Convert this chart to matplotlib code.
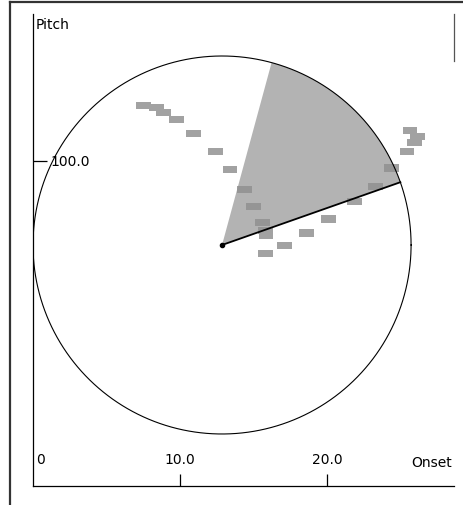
import numpy as np
import matplotlib
matplotlib.use('Agg')
import matplotlib.pyplot as plt
from matplotlib.lines import Line2D

# Note events: onset (beats), pitch, duration
onsets = [7.0, 7.9, 8.4, 9.25, 10.4, 11.9, 12.9, 13.9, 14.5, 15.1, 15.3, 15.35,
          16.6, 15.3, 18.1, 19.6, 21.35, 22.8, 23.9, 25.15, 25.65, 25.45, 24.95]
pitches = [107.9, 107.6, 106.9, 105.9, 103.9, 101.4, 98.8, 95.9, 93.5, 91.2, 90.1, 89.4,
           87.9, 86.8, 89.7, 91.7, 94.2, 96.4, 99.0, 104.4, 103.5, 102.6, 101.4]
durations = [1.0] * len(onsets)

# Selection circle (data units) and the highlighted sector (degrees)
circle_center = (12.86, 88.0)
circle_radius = (12.86, 27.0)
sector_angles = (19.4, 74.8)

x_ticks = [10, 20]
x_tick_labels = ['10.0', '20.0']
y_ticks = [100]
y_tick_labels = ['100.0']

plt.rcParams['font.family'] = 'DejaVu Sans'
plt.rcParams['font.size'] = 10

W, H = 464, 506
fig = plt.figure(figsize=(W / 100, H / 100), dpi=100)
ax = fig.add_axes([33 / W, 19 / H, 421 / W, 472 / H])
ax.set_xlim(0, 28.64)
ax.set_ylim(53.57, 121.0)

# notes
p = np.array(pitches)
ax.bar(onsets, 1.05, width=durations, bottom=p - 0.525, align='edge',
       color='#a2a2a2', linewidth=0, zorder=2)

# sector, drawn translucent over the notes
cx, cy = circle_center
rx, ry = circle_radius
t = np.radians(np.linspace(sector_angles[0], sector_angles[1], 100))
wx = np.concatenate([[cx], cx + rx * np.cos(t), [cx]])
wy = np.concatenate([[cy], cy + ry * np.sin(t), [cy]])
ax.fill(wx, wy, color='#8f8f8f', alpha=0.68, linewidth=0, zorder=3)

# circle outline
tt = np.linspace(0, 2 * np.pi, 400)
ax.plot(cx + rx * np.cos(tt), cy + ry * np.sin(tt), color='black', lw=0.8, zorder=4)

# radius line and centre dot
a0 = np.radians(sector_angles[0])
ax.plot([cx, cx + rx * np.cos(a0)], [cy, cy + ry * np.sin(a0)],
        color='black', lw=1.3, zorder=5)
ax.plot([cx], [cy], 'o', color='black', ms=3, zorder=6)

# axes styling
for side in ['top', 'right']:
    ax.spines[side].set_visible(False)
for side in ['left', 'bottom']:
    ax.spines[side].set_linewidth(0.9)
ax.set_xticks(x_ticks)
ax.set_yticks(y_ticks)
ax.tick_params(axis='x', direction='in', length=8.6, width=0.9, labelbottom=False)
ax.tick_params(axis='y', direction='in', length=10, width=0.9, labelleft=False)

for xv, lab in zip(x_ticks, x_tick_labels):
    ax.annotate(lab, xy=(xv, 0), xycoords=('data', 'axes fraction'),
                xytext=(0, 19.5), textcoords='offset points', ha='center', va='center')
ax.annotate('0', xy=(0, 0), xycoords=('data', 'axes fraction'),
            xytext=(2.2, 19.5), textcoords='offset points', ha='left', va='center')
for yv, lab in zip(y_ticks, y_tick_labels):
    ax.annotate(lab, xy=(0, yv), xycoords=('axes fraction', 'data'),
                xytext=(12.2, 0), textcoords='offset points', ha='left', va='center')

ax.annotate('Pitch', xy=(0, 1), xycoords='axes fraction', xytext=(2.2, -7.2),
            textcoords='offset points', ha='left', va='center')
ax.annotate('Onset', xy=(1, 0), xycoords='axes fraction', xytext=(-1.5, 17),
            textcoords='offset points', ha='right', va='center')

# panel frame (top and left edges) and the small marker at top right
fig.add_artist(Line2D([10 / W, 1], [1 - 3 / H, 1 - 3 / H], color='#333333', lw=1.6))
fig.add_artist(Line2D([10 / W, 10 / W], [0, 1 - 3 / H], color='#333333', lw=1.6))
fig.add_artist(Line2D([454 / W, 454 / W], [1 - 15 / H, 1 - 62 / H], color='#555555', lw=0.9))

fig.savefig('out.png', dpi=100)
